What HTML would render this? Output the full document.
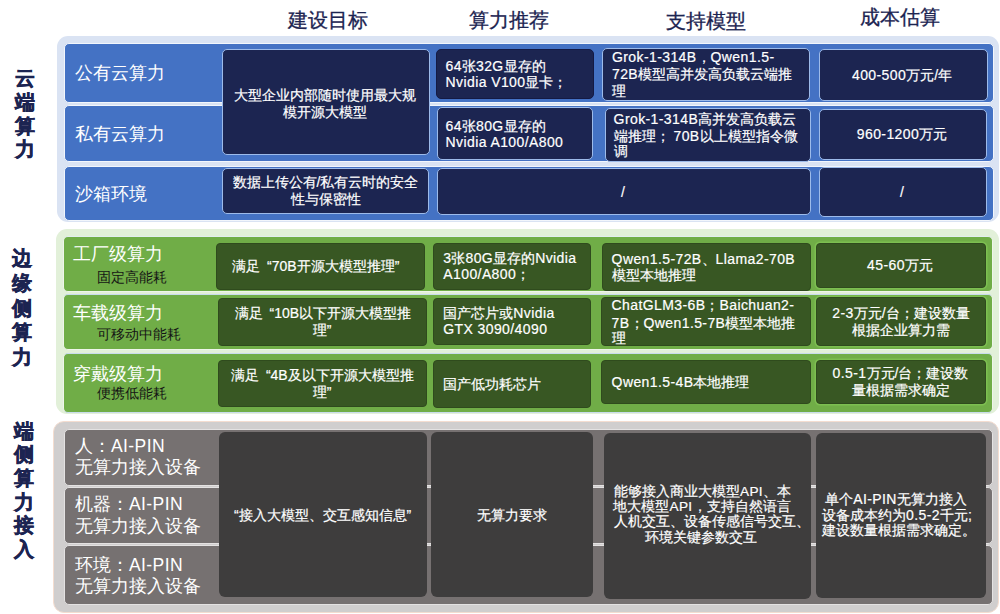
<!DOCTYPE html>
<html><head><meta charset="utf-8">
<style>
html,body{margin:0;padding:0;background:#fff;}
body{width:1000px;height:614px;position:relative;overflow:hidden;font-family:"Liberation Sans",sans-serif;}
.a{position:absolute;box-sizing:border-box;}
.pnl{border-radius:11px;}
.bar{border-radius:5px;}
.nv{background:#1c2551;border:1.5px solid #9dbbea;border-radius:5px;}
.gn{background:#385723;border:1px solid #2f4b1d;border-radius:4px;}
.gc{box-shadow:0 0 0 1.5px #7dbf51;}
.gy{background:#3e3d3d;border-radius:6px;}
.t{position:absolute;white-space:nowrap;}
.l{letter-spacing:0.4px;}
.w{-webkit-text-stroke:0.2px #fff;}
.q{margin-left:7px;}
</style></head><body>
<!-- CLOUD -->
<div class="a pnl" style="left:57px;top:36px;width:942px;height:186px;background:#dae3f3;"></div>
<div class="a bar" style="left:64px;top:42.5px;width:930px;height:60px;background:#4472c4;border:1px solid #f2f6fc;"></div>
<div class="a bar" style="left:64px;top:104.5px;width:930px;height:57px;background:#4472c4;border:1px solid #f2f6fc;"></div>
<div class="a bar" style="left:64px;top:165.5px;width:930px;height:55px;background:#4472c4;border:1px solid #f2f6fc;"></div>

<div class="a nv" style="left:222px;top:48.5px;width:208px;height:106.5px;"></div>
<div class="a nv" style="left:222px;top:168px;width:207px;height:46px;"></div>
<div class="a nv" style="left:435.5px;top:48.5px;width:158px;height:50.5px;border-color:#141a44;"></div>
<div class="a nv" style="left:436.5px;top:107px;width:156px;height:52.5px;"></div>
<div class="a nv" style="left:602px;top:48px;width:208px;height:53px;"></div>
<div class="a nv" style="left:604.5px;top:108px;width:206.5px;height:53.5px;"></div>
<div class="a nv" style="left:819px;top:48.5px;width:168.5px;height:52.5px;"></div>
<div class="a nv" style="left:818.5px;top:108.5px;width:168px;height:51px;"></div>
<div class="a nv" style="left:436.5px;top:168px;width:374.5px;height:46.5px;"></div>
<div class="a nv" style="left:819px;top:166.5px;width:167.5px;height:50.5px;"></div>

<!-- GREEN -->
<div class="a pnl" style="left:56px;top:229px;width:943px;height:185px;background:#e2f0d9;"></div>
<div class="a bar" style="left:63px;top:235.8px;width:930px;height:56px;background:#70ad47;border:1px solid #eef5ea;border-top-color:#e3eef0;"></div>
<div class="a bar" style="left:63px;top:294.2px;width:930px;height:55.6px;background:#70ad47;border:1px solid #eef5ea;border-top-color:#c9dcec;"></div>
<div class="a bar" style="left:63px;top:353.2px;width:930px;height:59.6px;background:#70ad47;border:1px solid #eef5ea;border-top-color:#c9dcec;border-bottom-color:#c9dcec;"></div>

<div class="a gn" style="left:216px;top:242.5px;width:209px;height:47.5px;"></div>
<div class="a gn" style="left:218px;top:297.5px;width:209px;height:48px;"></div>
<div class="a gn" style="left:218px;top:360px;width:209px;height:47px;"></div>
<div class="a gn" style="left:433px;top:242.5px;width:158px;height:47.5px;"></div>
<div class="a gn" style="left:433px;top:297.5px;width:158px;height:47.5px;"></div>
<div class="a gn" style="left:433px;top:360px;width:158px;height:48px;"></div>
<div class="a gn" style="left:601.5px;top:242.5px;width:209px;height:48px;"></div>
<div class="a gn" style="left:601px;top:296.5px;width:209.5px;height:49.5px;"></div>
<div class="a gn" style="left:601px;top:360px;width:209.5px;height:44px;"></div>
<div class="a gn gc" style="left:816px;top:242.5px;width:170px;height:45.5px;"></div>
<div class="a gn gc" style="left:816px;top:297px;width:170px;height:48.5px;"></div>
<div class="a gn gc" style="left:816px;top:359.5px;width:170px;height:44px;"></div>

<!-- GRAY -->
<div class="a pnl" style="left:52.5px;top:420.5px;width:946.5px;height:192px;background:#d0cece;border:1px solid #f4ddd0;"></div>
<div class="a bar" style="left:64px;top:428.5px;width:929px;height:57px;background:#767171;border:1px solid #e4e2e2;"></div>
<div class="a bar" style="left:64px;top:486.5px;width:929px;height:57.5px;background:#767171;border:1px solid #e4e2e2;"></div>
<div class="a bar" style="left:64px;top:545px;width:929px;height:60px;background:#767171;border:1px solid #e4e2e2;"></div>

<div class="a gy" style="left:219px;top:432px;width:208px;height:165px;"></div>
<div class="a gy" style="left:431px;top:432px;width:162px;height:165px;"></div>
<div class="a gy" style="left:603.5px;top:433px;width:207px;height:166px;"></div>
<div class="a gy" style="left:816px;top:433px;width:170px;height:165px;"></div>

<div class="t" style="top:10.0px;font-size:19.5px;line-height:20px;color:#1c2451;-webkit-text-stroke:0.3px #1c2451;left:177.6px;width:300px;text-align:center;">建设目标</div>
<div class="t" style="top:10.0px;font-size:19.5px;line-height:20px;color:#1c2451;-webkit-text-stroke:0.3px #1c2451;left:359.0px;width:300px;text-align:center;">算力推荐</div>
<div class="t" style="top:10.6px;font-size:19.5px;line-height:20px;color:#1c2451;-webkit-text-stroke:0.3px #1c2451;left:555.5px;width:300px;text-align:center;">支持模型</div>
<div class="t" style="top:6.8px;font-size:19.5px;line-height:20px;color:#1c2451;-webkit-text-stroke:0.3px #1c2451;left:750.0px;width:300px;text-align:center;">成本估算</div>
<div class="t" style="top:68.3px;font-size:19.5px;line-height:20px;color:#1c2451;font-weight:900;-webkit-text-stroke:0.5px #1c2451;left:4.7px;width:40px;text-align:center;">云</div>
<div class="t" style="top:92.0px;font-size:19.5px;line-height:20px;color:#1c2451;font-weight:900;-webkit-text-stroke:0.5px #1c2451;left:4.7px;width:40px;text-align:center;">端</div>
<div class="t" style="top:115.7px;font-size:19.5px;line-height:20px;color:#1c2451;font-weight:900;-webkit-text-stroke:0.5px #1c2451;left:4.7px;width:40px;text-align:center;">算</div>
<div class="t" style="top:139.4px;font-size:19.5px;line-height:20px;color:#1c2451;font-weight:900;-webkit-text-stroke:0.5px #1c2451;left:4.7px;width:40px;text-align:center;">力</div>
<div class="t" style="top:248.3px;font-size:19.5px;line-height:20px;color:#1c2451;font-weight:900;-webkit-text-stroke:0.5px #1c2451;left:2.2px;width:40px;text-align:center;">边</div>
<div class="t" style="top:273.0px;font-size:19.5px;line-height:20px;color:#1c2451;font-weight:900;-webkit-text-stroke:0.5px #1c2451;left:2.2px;width:40px;text-align:center;">缘</div>
<div class="t" style="top:297.7px;font-size:19.5px;line-height:20px;color:#1c2451;font-weight:900;-webkit-text-stroke:0.5px #1c2451;left:2.2px;width:40px;text-align:center;">侧</div>
<div class="t" style="top:322.4px;font-size:19.5px;line-height:20px;color:#1c2451;font-weight:900;-webkit-text-stroke:0.5px #1c2451;left:2.2px;width:40px;text-align:center;">算</div>
<div class="t" style="top:347.1px;font-size:19.5px;line-height:20px;color:#1c2451;font-weight:900;-webkit-text-stroke:0.5px #1c2451;left:2.2px;width:40px;text-align:center;">力</div>
<div class="t" style="top:420.7px;font-size:19.5px;line-height:20px;color:#1c2451;font-weight:900;-webkit-text-stroke:0.5px #1c2451;left:3.9px;width:40px;text-align:center;">端</div>
<div class="t" style="top:444.3px;font-size:19.5px;line-height:20px;color:#1c2451;font-weight:900;-webkit-text-stroke:0.5px #1c2451;left:3.9px;width:40px;text-align:center;">侧</div>
<div class="t" style="top:467.9px;font-size:19.5px;line-height:20px;color:#1c2451;font-weight:900;-webkit-text-stroke:0.5px #1c2451;left:3.9px;width:40px;text-align:center;">算</div>
<div class="t" style="top:491.5px;font-size:19.5px;line-height:20px;color:#1c2451;font-weight:900;-webkit-text-stroke:0.5px #1c2451;left:3.9px;width:40px;text-align:center;">力</div>
<div class="t" style="top:515.1px;font-size:19.5px;line-height:20px;color:#1c2451;font-weight:900;-webkit-text-stroke:0.5px #1c2451;left:3.9px;width:40px;text-align:center;">接</div>
<div class="t" style="top:538.7px;font-size:19.5px;line-height:20px;color:#1c2451;font-weight:900;-webkit-text-stroke:0.5px #1c2451;left:3.9px;width:40px;text-align:center;">入</div>
<div class="t" style="top:63.0px;font-size:17.5px;line-height:20px;color:#fff;font-weight:300;left:75.0px;">公有云算力</div>
<div class="t" style="top:124.0px;font-size:17.5px;line-height:20px;color:#fff;font-weight:300;left:75.0px;">私有云算力</div>
<div class="t" style="top:184.0px;font-size:17.5px;line-height:20px;color:#fff;font-weight:300;left:75.0px;">沙箱环境</div>
<div class="t w" style="top:85.0px;font-size:14px;line-height:20px;color:#fff;left:175.0px;width:300px;text-align:center;">大型企业内部随时使用最大规</div>
<div class="t w" style="top:101.5px;font-size:14px;line-height:20px;color:#fff;left:175.0px;width:300px;text-align:center;">模开源大模型</div>
<div class="t w" style="top:172.3px;font-size:14px;line-height:20px;color:#fff;left:175.5px;width:300px;text-align:center;">数据上传公有/私有云时的安全</div>
<div class="t w" style="top:188.7px;font-size:14px;line-height:20px;color:#fff;left:175.5px;width:300px;text-align:center;">性与保密性</div>
<div class="t w" style="top:56.0px;font-size:14px;line-height:20px;color:#fff;left:445.6px;"><span class=l>64</span>张<span class=l>32G</span>显存的</div>
<div class="t w" style="top:72.2px;font-size:14px;line-height:20px;color:#fff;left:445.6px;"><span class=l>Nvidia V100</span>显卡；</div>
<div class="t w" style="top:115.6px;font-size:14px;line-height:20px;color:#fff;left:445.6px;"><span class=l>64</span>张<span class=l>80G</span>显存的</div>
<div class="t w" style="top:132.2px;font-size:14px;line-height:20px;color:#fff;left:445.6px;"><span class=l>Nvidia A100/A800</span></div>
<div class="t w" style="top:47.0px;font-size:14px;line-height:20px;color:#fff;left:612.0px;"><span class=l>Grok-1-314B</span>，<span class=l>Qwen1.5-</span></div>
<div class="t w" style="top:64.0px;font-size:14px;line-height:20px;color:#fff;left:612.0px;"><span class=l>72B</span>模型高并发高负载云端推</div>
<div class="t w" style="top:81.0px;font-size:14px;line-height:20px;color:#fff;left:612.0px;">理</div>
<div class="t w" style="top:108.6px;font-size:14px;line-height:20px;color:#fff;left:613.6px;"><span class=l>Grok-1-314B</span>高并发高负载云</div>
<div class="t w" style="top:125.7px;font-size:14px;line-height:20px;color:#fff;left:613.6px;">端推理； <span class=l>70B</span>以上模型指令微</div>
<div class="t w" style="top:141.0px;font-size:14px;line-height:20px;color:#fff;left:613.6px;">调</div>
<div class="t w" style="top:65.0px;font-size:14px;line-height:20px;color:#fff;left:752.0px;width:300px;text-align:center;"><span class=l>400-500</span>万元/年</div>
<div class="t w" style="top:123.5px;font-size:14px;line-height:20px;color:#fff;left:752.0px;width:300px;text-align:center;"><span class=l>960-1200</span>万元</div>
<div class="t w" style="top:182.0px;font-size:14px;line-height:20px;color:#fff;left:473.0px;width:300px;text-align:center;">/</div>
<div class="t w" style="top:182.0px;font-size:14px;line-height:20px;color:#fff;left:752.0px;width:300px;text-align:center;">/</div>
<div class="t" style="top:243.7px;font-size:17.5px;line-height:20px;color:#fff;font-weight:300;left:73.2px;">工厂级算力</div>
<div class="t" style="top:267.5px;font-size:13.5px;line-height:20px;color:#151515;font-weight:500;left:97.0px;width:40px;text-align:center;">固定高能耗</div>
<div class="t" style="top:302.6px;font-size:17.5px;line-height:20px;color:#fff;font-weight:300;left:73.2px;">车载级算力</div>
<div class="t" style="top:325.0px;font-size:13.5px;line-height:20px;color:#151515;font-weight:500;left:97.0px;width:40px;text-align:center;">可移动中能耗</div>
<div class="t" style="top:363.5px;font-size:17.5px;line-height:20px;color:#fff;font-weight:300;left:73.2px;">穿戴级算力</div>
<div class="t" style="top:384.3px;font-size:13.5px;line-height:20px;color:#151515;font-weight:500;left:97.0px;width:40px;text-align:center;">便携低能耗</div>
<div class="t w" style="top:256.2px;font-size:14px;line-height:20px;color:#fff;left:165.7px;width:300px;text-align:center;">满足<span class=q>“</span>70B开源大模型推理”</div>
<div class="t w" style="top:303.0px;font-size:14px;line-height:20px;color:#fff;left:172.8px;width:300px;text-align:center;">满足<span class=q>“</span>10B以下开源大模型推</div>
<div class="t w" style="top:319.5px;font-size:14px;line-height:20px;color:#fff;left:172.0px;width:300px;text-align:center;">理”</div>
<div class="t w" style="top:365.0px;font-size:14px;line-height:20px;color:#fff;left:172.3px;width:300px;text-align:center;">满足<span class=q>“</span>4B及以下开源大模型推</div>
<div class="t w" style="top:381.8px;font-size:14px;line-height:20px;color:#fff;left:172.0px;width:300px;text-align:center;">理”</div>
<div class="t w" style="top:248.0px;font-size:14px;line-height:20px;color:#fff;left:443.3px;"><span class=l>3</span>张<span class=l>80G</span>显存的<span class=l>Nvidia</span></div>
<div class="t w" style="top:264.0px;font-size:14px;line-height:20px;color:#fff;left:443.3px;"><span class=l>A100/A800</span>；</div>
<div class="t w" style="top:302.5px;font-size:14px;line-height:20px;color:#fff;left:443.3px;">国产芯片或<span class=l>Nvidia</span></div>
<div class="t w" style="top:319.0px;font-size:14px;line-height:20px;color:#fff;left:443.3px;"><span class=l>GTX 3090/4090</span></div>
<div class="t w" style="top:373.5px;font-size:14px;line-height:20px;color:#fff;left:443.3px;">国产低功耗芯片</div>
<div class="t w" style="top:249.0px;font-size:14px;line-height:20px;color:#fff;left:611.6px;"><span class=l>Qwen1.5-72B</span>、<span class=l>Llama2-70B</span></div>
<div class="t w" style="top:265.3px;font-size:14px;line-height:20px;color:#fff;left:611.6px;">模型本地推理</div>
<div class="t w" style="top:295.0px;font-size:14px;line-height:20px;color:#fff;left:611.6px;"><span class=l>ChatGLM3-6B</span>；<span class=l>Baichuan2-</span></div>
<div class="t w" style="top:312.5px;font-size:14px;line-height:20px;color:#fff;left:611.6px;"><span class=l>7B</span>；<span class=l>Qwen1.5-7B</span>模型本地推</div>
<div class="t w" style="top:328.0px;font-size:14px;line-height:20px;color:#fff;left:611.6px;">理</div>
<div class="t w" style="top:371.5px;font-size:14px;line-height:20px;color:#fff;left:611.6px;"><span class=l>Qwen1.5-4B</span>本地推理</div>
<div class="t w" style="top:254.7px;font-size:14px;line-height:20px;color:#fff;left:750.0px;width:300px;text-align:center;"><span class=l>45-60</span>万元</div>
<div class="t w" style="top:303.0px;font-size:14px;line-height:20px;color:#fff;left:751.0px;width:300px;text-align:center;"><span class=l>2-3</span>万元/台；建设数量</div>
<div class="t w" style="top:320.0px;font-size:14px;line-height:20px;color:#fff;left:750.6px;width:300px;text-align:center;">根据企业算力需</div>
<div class="t w" style="top:363.0px;font-size:14px;line-height:20px;color:#fff;left:750.5px;width:300px;text-align:center;"><span class=l>0.5-1</span>万元/台；建设数</div>
<div class="t w" style="top:380.3px;font-size:14px;line-height:20px;color:#fff;left:750.6px;width:300px;text-align:center;">量根据需求确定</div>
<div class="t" style="top:436.0px;font-size:17.5px;line-height:20px;color:#fff;left:75.0px;">人：<span class=l>AI-PIN</span></div>
<div class="t" style="top:457.2px;font-size:17.5px;line-height:20px;color:#fff;left:75.0px;">无算力接入设备</div>
<div class="t" style="top:494.0px;font-size:17.5px;line-height:20px;color:#fff;left:75.0px;">机器：<span class=l>AI-PIN</span></div>
<div class="t" style="top:516.0px;font-size:17.5px;line-height:20px;color:#fff;left:75.0px;">无算力接入设备</div>
<div class="t" style="top:555.0px;font-size:17.5px;line-height:20px;color:#fff;left:75.0px;">环境：<span class=l>AI-PIN</span></div>
<div class="t" style="top:576.2px;font-size:17.5px;line-height:20px;color:#fff;left:75.0px;">无算力接入设备</div>
<div class="t w" style="top:504.7px;font-size:14px;line-height:20px;color:#fff;left:172.6px;width:300px;text-align:center;">“接入大模型、交互感知信息”</div>
<div class="t w" style="top:504.5px;font-size:14px;line-height:20px;color:#fff;left:361.6px;width:300px;text-align:center;">无算力要求</div>
<div class="t w" style="top:482.0px;font-size:13.6px;line-height:20px;color:#fff;left:552.5px;width:300px;text-align:center;">能够接入商业大模型<span class=l>API</span>、本</div>
<div class="t w" style="top:497.0px;font-size:13.6px;line-height:20px;color:#fff;left:552.0px;width:300px;text-align:center;">地大模型<span class=l>API</span>，支持自然语言</div>
<div class="t w" style="top:512.2px;font-size:13.6px;line-height:20px;color:#fff;left:562.0px;width:300px;text-align:center;">人机交互、设备传感信号交互、</div>
<div class="t w" style="top:528.0px;font-size:13.6px;line-height:20px;color:#fff;left:551.0px;width:300px;text-align:center;">环境关键参数交互</div>
<div class="t w" style="top:488.5px;font-size:14px;line-height:20px;color:#fff;left:746.0px;width:300px;text-align:center;">单个<span class=l>AI-PIN</span>无算力接入</div>
<div class="t w" style="top:504.5px;font-size:14px;line-height:20px;color:#fff;left:747.0px;width:300px;text-align:center;">设备成本约为<span class=l>0.5-2</span>千元;</div>
<div class="t w" style="top:519.8px;font-size:14px;line-height:20px;color:#fff;left:749.0px;width:300px;text-align:center;">建设数量根据需求确定。</div>
</body></html>
